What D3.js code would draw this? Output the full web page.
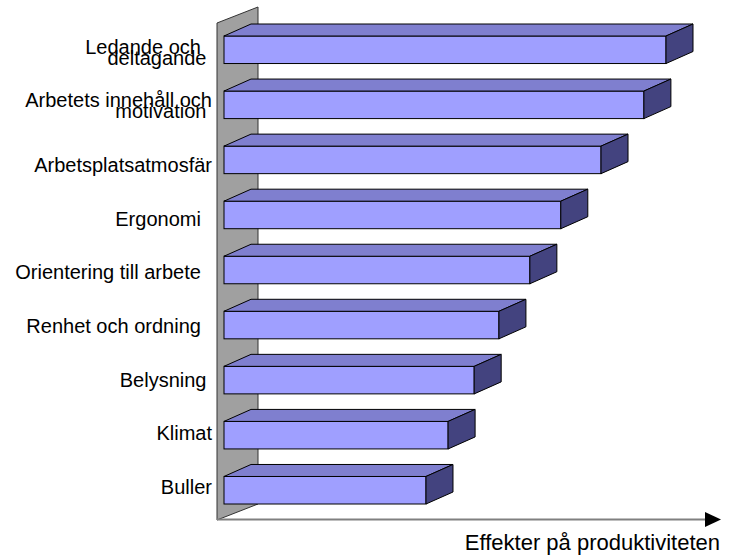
<!DOCTYPE html>
<html>
<head>
<meta charset="utf-8">
<script src="https://cdn.jsdelivr.net/npm/d3@7"></script>
<style>
  body { margin: 0; background: #fff; }
  svg text { font-family: "Liberation Sans", Arial, sans-serif; fill: #000; white-space: pre; }
</style>
</head>
<body>
<svg id="chart" width="730" height="558"></svg>
<script>
// categories, top to bottom (trailing spaces as in the original labels)
var categories = [
  "Ledande och  \ndeltagande ",
  "Arbetets innehåll och\nmotivation ",
  "Arbetsplatsatmosfär",
  "Ergonomi  ",
  "Orientering till arbete  ",
  "Renhet och ordning  ",
  "Belysning ",
  "Klimat",
  "Buller"
];
// relative effect on productivity (no scale shown)
var values = [100, 95, 85.3, 76.2, 69.2, 62.2, 56.6, 50.7, 45.7];
var axisTitle = "Effekter på produktiviteten";

var svg = d3.select("#chart");
var depthX = 27, depthY = 12;

var x = d3.scaleLinear().domain([0, 100]).range([224, 666]);
var y = d3.scaleBand().domain(categories).range([36, 504]).paddingInner(0.5).paddingOuter(0);
var labelY = d3.scalePoint().domain(categories).range([64.6, 494]);
var bw = y.bandwidth();

// back wall
svg.append("path")
  .attr("d", "M217,23 L258,7 L258,504 L217,520 Z")
  .attr("fill", "#a0a0a0")
  .attr("stroke", "#333")
  .attr("stroke-width", 1);

// floor with arrow
svg.append("line")
  .attr("x1", 217).attr("y1", 519.5)
  .attr("x2", 706).attr("y2", 519.5)
  .attr("stroke", "#808080")
  .attr("stroke-width", 2);
svg.append("path")
  .attr("d", "M705,512 L721,519.5 L705,527 Z")
  .attr("fill", "#000");

var data = categories.map(function(c, i) { return {cat: c, value: values[i]}; });

var bars = svg.append("g").selectAll("g")
  .data(data)
  .enter()
  .append("g");

bars.append("rect")
  .attr("x", x(0))
  .attr("y", function(d) { return y(d.cat); })
  .attr("width", function(d) { return x(d.value) - x(0); })
  .attr("height", bw)
  .attr("fill", "#9f9fff")
  .attr("stroke", "#000")
  .attr("stroke-width", 1);

bars.append("path")
  .attr("d", function(d) {
    var x0 = x(0), x1 = x(d.value), yt = y(d.cat);
    return "M" + x0 + "," + yt + " L" + (x0 + depthX) + "," + (yt - depthY) +
      " L" + (x1 + depthX) + "," + (yt - depthY) + " L" + x1 + "," + yt + " Z";
  })
  .attr("fill", "#7f7fcf")
  .attr("stroke", "#000")
  .attr("stroke-width", 1);

bars.append("path")
  .attr("d", function(d) {
    var x1 = x(d.value), yt = y(d.cat), yb = yt + bw;
    return "M" + x1 + "," + yt + " L" + (x1 + depthX) + "," + (yt - depthY) +
      " L" + (x1 + depthX) + "," + (yb - depthY) + " L" + x1 + "," + yb + " Z";
  })
  .attr("fill", "#43437f")
  .attr("stroke", "#000")
  .attr("stroke-width", 1);

// category labels
var labels = svg.append("g").selectAll("text")
  .data(categories)
  .enter()
  .append("text")
  .attr("xml:space", "preserve")
  .attr("text-anchor", "end")
  .style("font-size", "20px");

labels.each(function(c) {
  var lines = c.split("\n");
  var t = d3.select(this);
  lines.forEach(function(line, j) {
    t.append("tspan")
      .attr("x", 212)
      .attr("y", labelY(c) - (lines.length - 1 - j) * 11)
      .text(line);
  });
});

svg.append("text")
  .attr("x", 720)
  .attr("y", 550)
  .attr("text-anchor", "end")
  .style("font-size", "22px")
  .text(axisTitle);
</script>
</body>
</html>
